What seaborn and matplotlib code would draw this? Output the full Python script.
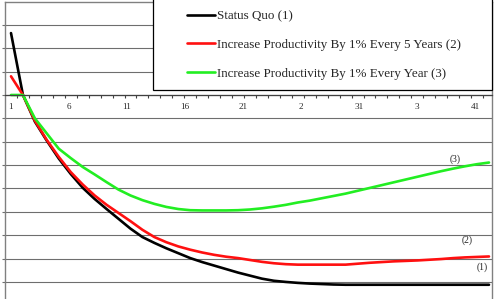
import numpy as np
import pandas as pd
import matplotlib
matplotlib.use("Agg")
import matplotlib.pyplot as plt
import seaborn as sns
from matplotlib.patches import Rectangle
from matplotlib.ticker import MultipleLocator, FixedLocator
from matplotlib.transforms import ScaledTranslation

# ---- data ----
categories = list(range(1, 42))
status_quo = [2.65, 0.0, -1.14, -1.96, -2.72, -3.38, -3.97, -4.45, -4.88, -5.3,
              -5.72, -6.08, -6.33, -6.56, -6.77, -6.98, -7.15, -7.3, -7.45, -7.6,
              -7.73, -7.86, -7.95, -8.0, -8.04, -8.07, -8.09, -8.11, -8.12, -8.12,
              -8.12, -8.12, -8.12, -8.12, -8.12, -8.12, -8.12, -8.12, -8.12, -8.12, -8.12]
every_5_years = [0.8, 0.0, -1.1, -1.93, -2.65, -3.3, -3.83, -4.3, -4.7, -5.05,
                 -5.4, -5.77, -6.08, -6.3, -6.48, -6.62, -6.74, -6.84, -6.92, -6.98,
                 -7.06, -7.14, -7.2, -7.24, -7.26, -7.26, -7.26, -7.26, -7.26, -7.22,
                 -7.18, -7.15, -7.12, -7.1, -7.08, -7.05, -7.02, -6.98, -6.95, -6.93, -6.91]
every_year = [0.0, 0.0, -1.0, -1.65, -2.3, -2.7, -3.08, -3.4, -3.73, -4.05,
              -4.3, -4.5, -4.66, -4.79, -4.88, -4.93, -4.94, -4.94, -4.94, -4.93,
              -4.9, -4.85, -4.78, -4.7, -4.6, -4.52, -4.42, -4.32, -4.22, -4.1,
              -3.98, -3.86, -3.74, -3.62, -3.5, -3.38, -3.26, -3.15, -3.05, -2.96, -2.89]
series_names = ["Status Quo (1)",
                "Increase Productivity By 1% Every 5 Years (2)",
                "Increase Productivity By 1% Every Year (3)"]
series_colors = ["#000000", "#ff1010", "#22ee22"]
tick_positions = [1, 6, 11, 16, 21, 26, 31, 36, 41]
tick_labels = ["1", "6", "11", "16", "21", "2", "31", "3", "41"]
end_labels = ["(1)", "(2)", "(3)"]

df = pd.DataFrame({"cat": categories * 3,
                   "value": status_quo + every_5_years + every_year,
                   "series": [series_names[0]] * 41 + [series_names[1]] * 41 + [series_names[2]] * 41})

sns.set_style("white")
plt.rcParams["font.family"] = ["Liberation Serif", "DejaVu Serif"]

W, H = 498, 299
fig = plt.figure(figsize=(W / 100, H / 100), dpi=100)
ax = fig.add_axes([4.5 / W, 0, 487.5 / W, 297 / H])

for name, col in zip(series_names, series_colors):
    sub = df[df["series"] == name]
    sns.lineplot(data=sub, x="cat", y="value", color=col, linewidth=1.9,
                 label=name, ax=ax)

ax.set_xlim(0.456, 41.25)
ax.set_ylim(-8.73, 3.98)

# grid
ax.yaxis.set_major_locator(MultipleLocator(1))
ax.grid(axis="y", color="#6e6e6e", linewidth=0.8)
ax.grid(axis="x", visible=False)
ax.set_axisbelow(True)
ax.tick_params(axis="y", which="major", direction="out", length=2.2, width=0.8,
               color="#707070", labelleft=False, left=True)

# x axis at zero
ax.spines["bottom"].set_position(("data", 0))
ax.spines["bottom"].set_color("#404040")
ax.spines["bottom"].set_linewidth(0.9)
for s in ["left", "top", "right"]:
    ax.spines[s].set_color("#808080")
    ax.spines[s].set_linewidth(1.0)
ax.xaxis.set_major_locator(FixedLocator(tick_positions))
ax.set_xticklabels(tick_labels)
ax.xaxis.set_minor_locator(FixedLocator([c + 0.5 for c in categories[:-1]]))
ax.tick_params(axis="x", which="major", length=0, pad=5.5, labelsize=6.6)
ax.tick_params(axis="x", which="minor", direction="out", length=2.2, width=0.8,
               color="#404040", bottom=True)
# the reference labels drift slightly left of their categories
for pos, lbl in zip(tick_positions, ax.get_xticklabels()):
    lbl.set_transform(lbl.get_transform() +
                      ScaledTranslation(-(pos - 1) * 0.0035, 0, fig.dpi_scale_trans))
ax.set_xlabel("")
ax.set_ylabel("")

# end labels
ax.text(40.4, -7.35, end_labels[0], fontsize=7, ha="center", va="center")
ax.text(39.2, -6.2, end_labels[1], fontsize=7, ha="center", va="center")
ax.text(38.2, -2.73, end_labels[2], fontsize=7, ha="center", va="center")

leg = ax.legend(loc="upper left", bbox_to_anchor=(187 / W, 1 - 10 / H),
                bbox_transform=fig.transFigure, frameon=False,
                fontsize=9.4, handlelength=2.13, handletextpad=0.15,
                labelspacing=1.27, borderpad=0, borderaxespad=0)
for h in leg.get_lines():
    h.set_linewidth(1.9)
leg.set_zorder(6)

fig.canvas.draw()
bb = leg.get_window_extent()
rect = Rectangle((bb.x0 - 34, bb.y0 - 10), (bb.width + 65), (bb.height + 22),
                 transform=None, facecolor="white", edgecolor="black",
                 linewidth=0.9, zorder=5, clip_on=False)
ax.add_artist(rect)

fig.savefig("out.png", dpi=100)
